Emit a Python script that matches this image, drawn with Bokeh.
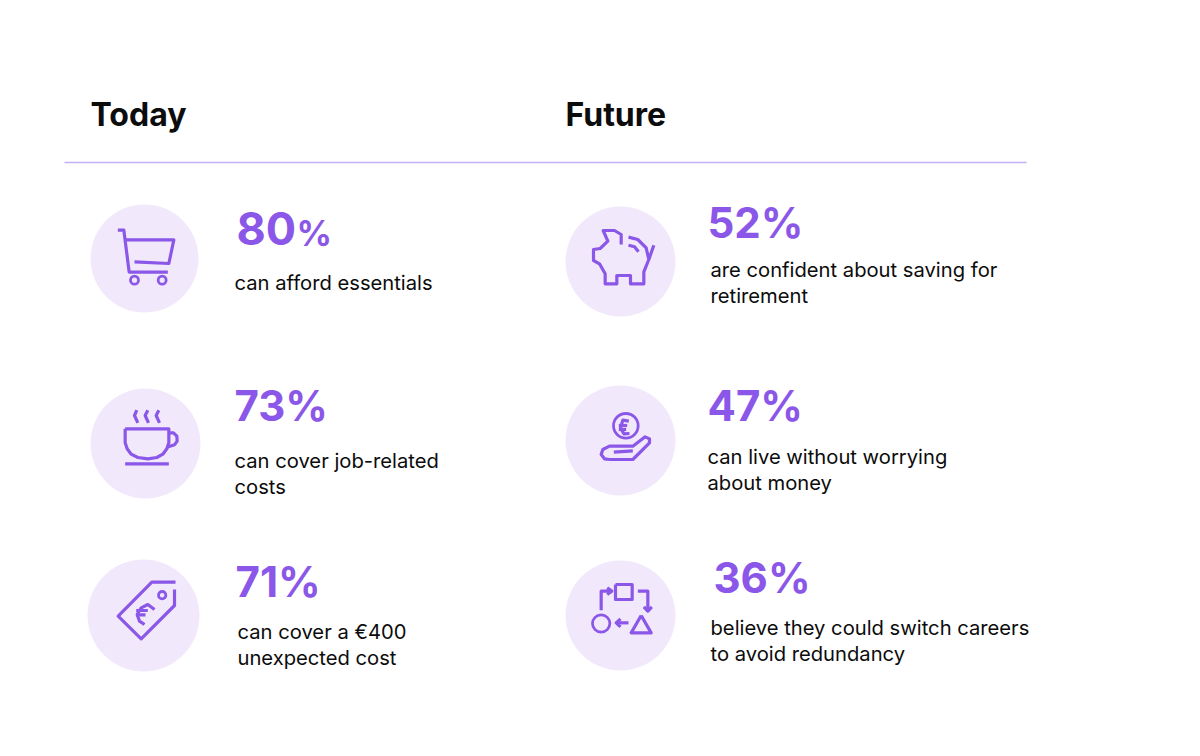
from bokeh.core.properties import value
from bokeh.embed import file_html
from bokeh.plotting import figure
from bokeh.resources import INLINE

purple = '#8b57e8'
pale = '#f1e9fb'
black = '#0c0c0c'

# figures and their captions
headings = ['Today', 'Future']
numbers = ['73%', '71%', '52%', '47%', '36%']
captions = ['can afford essentials',
            'can cover job-related\ncosts',
            'can cover a €400\nunexpected cost',
            'are confident about saving for\nretirement',
            'can live without worrying\nabout money',
            'believe they could switch careers\nto avoid redundancy']

# layout, in page pixels
heading_x = [91, 566]
number_x = [235, 236, 708, 708, 714]
number_y = [406, 582, 223, 406, 578]
caption_x = [235, 235, 238, 711, 708, 711]
caption_y = [283, 461, 632, 270, 457, 628]
disc_x = [145, 146, 144, 621, 621, 621]
disc_y = [259, 444, 616, 262, 441, 616]
disc_r = [54, 55, 56, 55, 55, 55]


def zoomed(ox, oy, pts):
    # icon points were traced on a 3x crop starting at ox, oy
    return [ox + a / 3 for a, b in pts], [oy + b / 3 for a, b in pts]


icon_lines = [
    # cart
    (80, 190, [(115, 122), (133, 122), (149, 248), (265, 248)]),
    (80, 190, [(137, 151), (283, 151), (268, 222), (165, 217)]),
    # cup
    (80, 380, [(137, 148), (268, 148), (268, 190), (262, 208), (250, 224), (232, 234), (205, 238),
               (175, 234), (155, 224), (143, 208), (137, 190), (137, 148)]),
    (80, 380, [(268, 160), (282, 160), (292, 170), (293, 185), (285, 196), (262, 203)]),
    (80, 380, [(137, 253), (268, 253)]),
    (80, 380, [(172, 92), (165, 108), (175, 130)]),
    (80, 380, [(205, 92), (197, 108), (207, 130)]),
    (80, 380, [(238, 92), (230, 108), (240, 130)]),
    # tag
    (80, 550, [(288, 98), (217, 98), (116, 200), (185, 268), (285, 168), (285, 120)]),
    (80, 550, [(225, 180), (205, 165), (185, 175), (173, 195), (180, 215), (195, 225)]),
    (80, 550, [(170, 183), (205, 183)]),
    (80, 550, [(170, 196), (198, 196)]),
    # piggy bank
    (555, 195, [(200, 150), (200, 120), (180, 108), (146, 108), (160, 140), (137, 162),
                (117, 165), (117, 198), (135, 208), (152, 238), (152, 268), (187, 268),
                (187, 243), (228, 243), (228, 268), (268, 268), (268, 232), (283, 195),
                (298, 152)]),
    (555, 195, [(222, 128), (250, 135), (275, 160), (283, 195)]),
    (555, 195, [(222, 152), (240, 157), (252, 172)]),
    # hand and coin
    (555, 380, [(165, 240), (235, 240), (285, 190), (285, 178), (272, 172), (235, 200), (165, 200),
                (145, 210), (140, 225), (150, 238), (165, 240)]),
    (555, 380, [(178, 218), (235, 214)]),
    (555, 380, [(223, 125), (205, 122), (198, 145), (208, 163), (225, 162)]),
    (555, 380, [(193, 138), (218, 138)]),
    (555, 380, [(193, 150), (215, 150)]),
    # arrows and shapes
    (555, 550, [(183, 105), (233, 105), (233, 150), (183, 150), (183, 105)]),
    (555, 550, [(140, 182), (140, 125), (172, 125)]),
    (555, 550, [(158, 115), (172, 125), (158, 135)]),
    (555, 550, [(250, 125), (280, 125), (280, 185)]),
    (555, 550, [(268, 172), (280, 185), (292, 172)]),
    (555, 550, [(222, 220), (185, 220)]),
    (555, 550, [(198, 208), (185, 220), (198, 232)]),
    (555, 550, [(260, 198), (290, 250), (230, 250), (260, 198)]),
]
icon_rings = [
    (80, 190, 165, 272, 12), (80, 190, 248, 272, 12),
    (80, 550, 248, 137, 11),
    (555, 380, 214, 139, 37),
    (555, 550, 140, 222, 26),
]

p = figure(width=1184, height=740, x_range=(1, 1185), y_range=(741, 1),
           output_backend='svg', toolbar_location=None, min_border=0)
p.axis.visible = False
p.grid.visible = False
p.outline_line_color = None

p.segment(x0=[65], y0=[163], x1=[1027], y1=[163], line_color='#c3b0f3', line_width=1.3)
p.circle(x=disc_x, y=disc_y, radius=disc_r, fill_color=pale, line_color=None)

xs, ys = [], []
for ox, oy, pts in icon_lines:
    x, y = zoomed(ox, oy, pts)
    xs.append(x)
    ys.append(y)
p.multi_line(xs, ys, line_color=purple, line_width=3.2, line_join='round')
p.circle(x=[r[0] + r[2] / 3 for r in icon_rings], y=[r[1] + r[3] / 3 for r in icon_rings],
         radius=[r[4] / 3 for r in icon_rings], fill_color=None,
         line_color=purple, line_width=2.8)

p.text(x=heading_x, y=[115, 115], text=headings, text_font=value('Inter'),
       text_font_size='32px', text_font_style='bold', text_color=black,
       text_baseline='middle')
p.text(x=number_x, y=number_y, text=numbers, text_font=value('Inter'),
       text_font_size='42px', text_font_style='bold', text_color=purple,
       text_baseline='middle')
p.text(x=[237], y=[229], text=['80'], text_font=value('Inter'), text_font_size='45px',
       text_font_style='bold', text_color=purple, text_baseline='middle')
p.text(x=[297], y=[233], text=['%'], text_font=value('Inter'), text_font_size='35px',
       text_font_style='bold', text_color=purple, text_baseline='middle')

line_x, line_y, lines = [], [], []
for x, y, c in zip(caption_x, caption_y, captions):
    for i, t in enumerate(c.split('\n')):
        line_x.append(x)
        line_y.append(y + i * 26)
        lines.append(t)
p.text(x=line_x, y=line_y, text=lines, text_font=value('Inter'), text_font_size='20.2px',
       text_color=black, text_baseline='middle')

open('out.html', 'w').write(file_html(p, INLINE))
